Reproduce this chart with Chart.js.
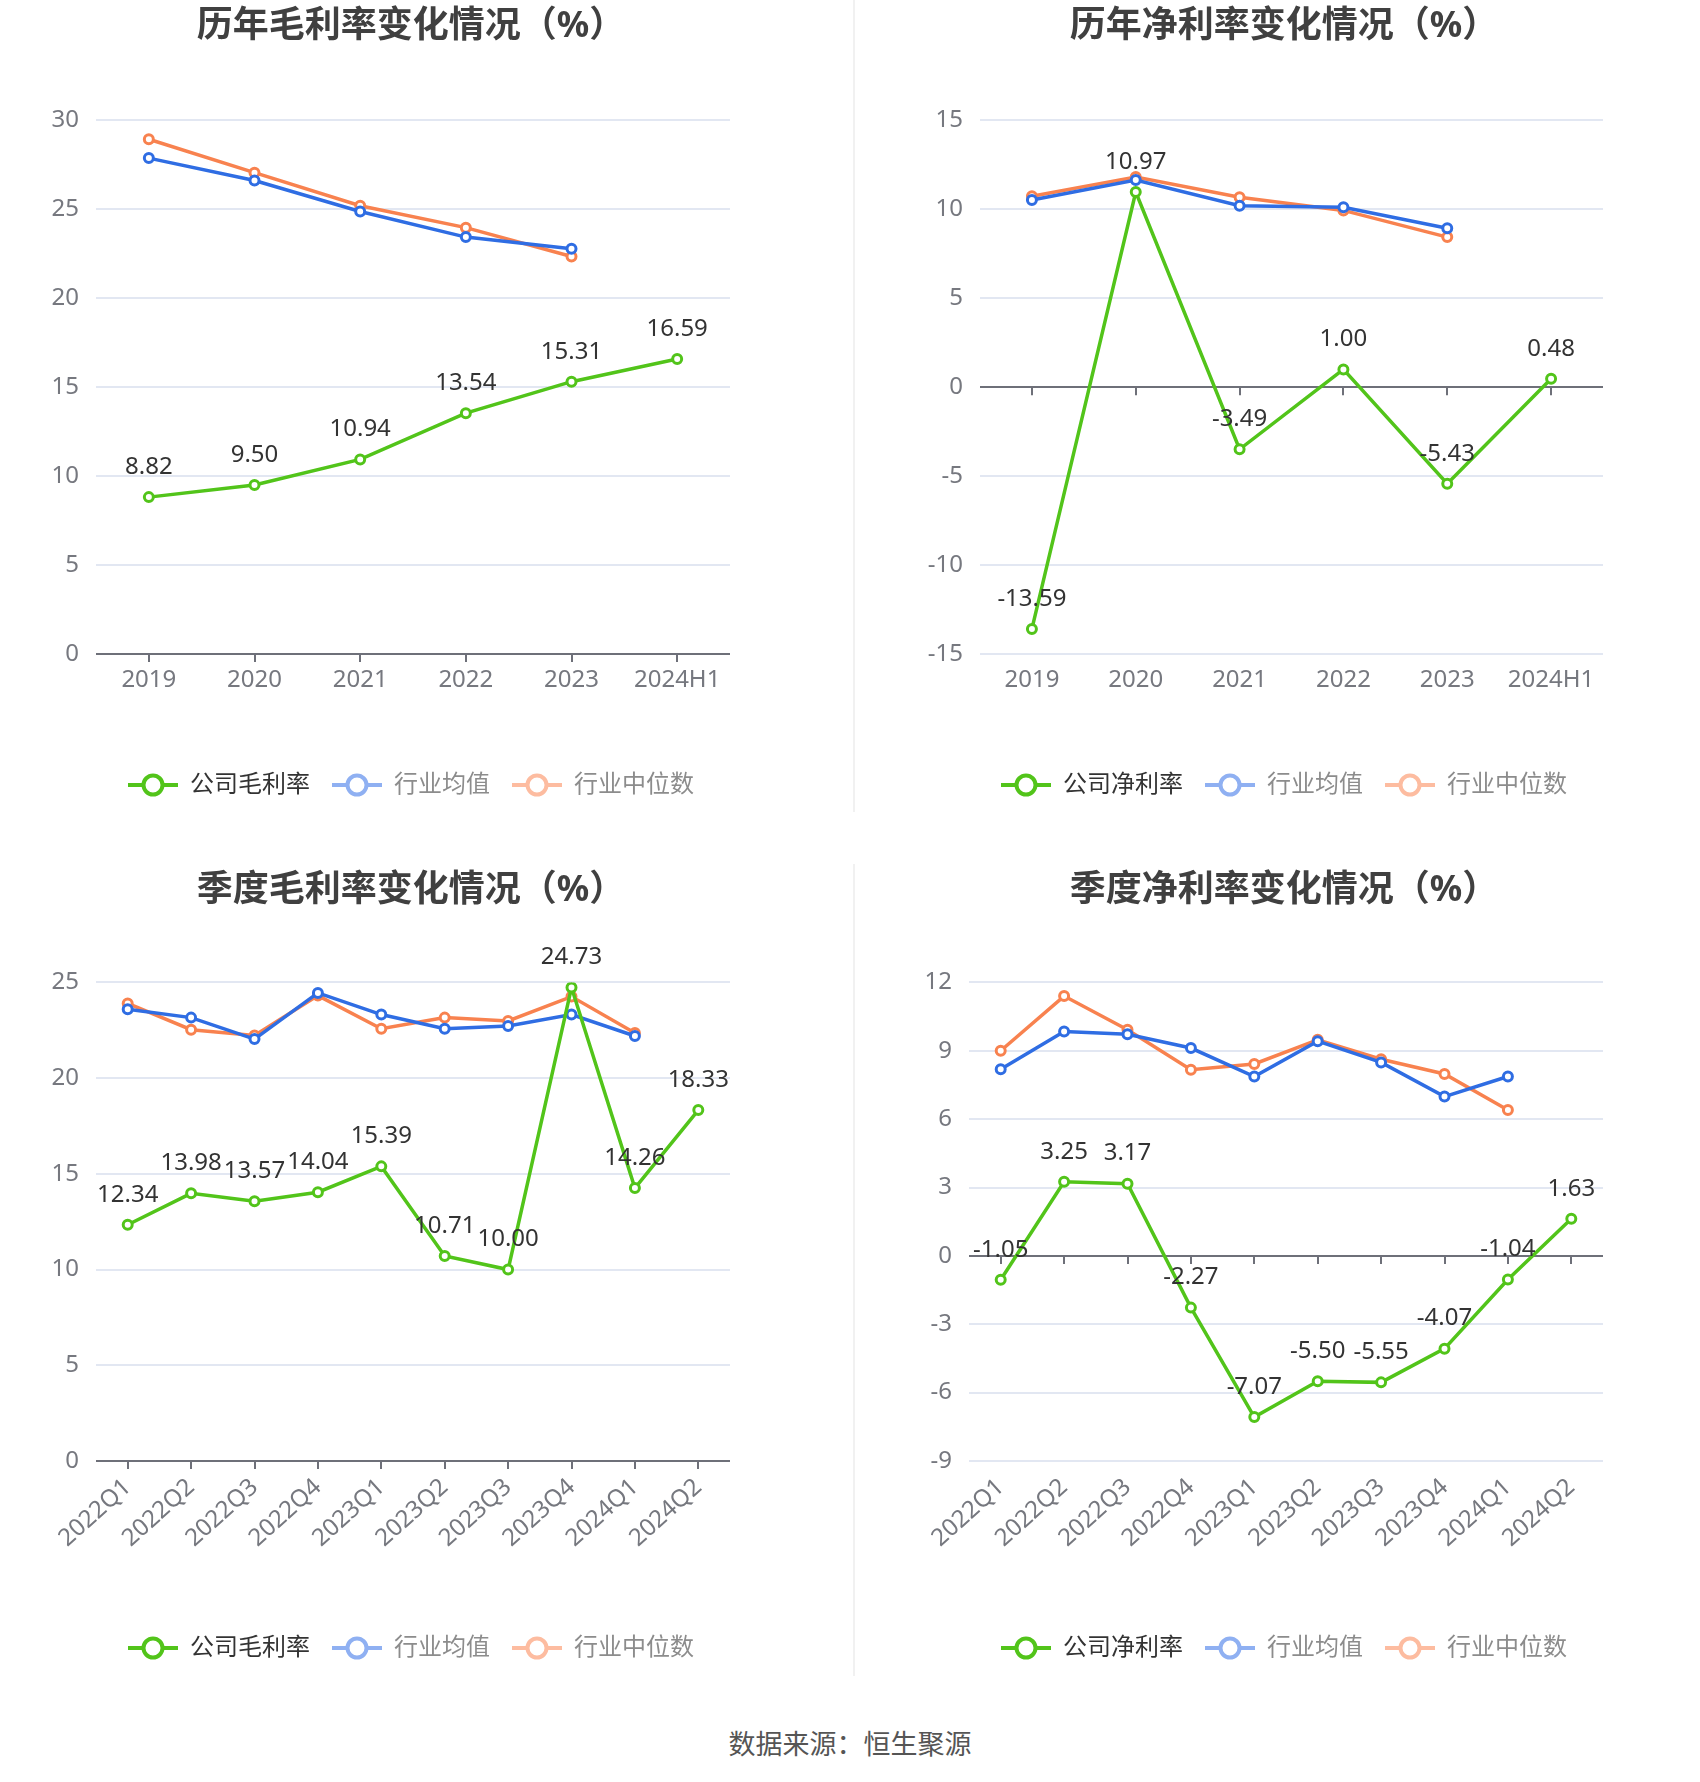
<!DOCTYPE html>
<html lang="zh-CN">
<head>
<meta charset="utf-8">
<title>毛利率、净利率变化情况</title>
<script src="https://cdn.jsdelivr.net/npm/chart.js@4.4.1/dist/chart.umd.min.js"></script>
<style>
    html, body { margin: 0; padding: 0; background: #fff; }
    #page { position: relative; width: 1700px; height: 1782px; overflow: hidden; }
    #page canvas { position: absolute; }
    .divider { position: absolute; left: 853px; width: 2px; background: #f1f1f1; }
    #source {
        position: absolute; left: 0; top: 1726px; width: 1700px; line-height: 34px;
        text-align: center; font-size: 27px; color: #555;
        font-family: 'Noto Sans CJK SC', sans-serif;
    }
</style>
</head>
<body>
<div id="page">
    <canvas id="chart1" width="822" height="830" style="left:0;top:0"></canvas>
    <canvas id="chart2" width="832" height="830" style="left:868px;top:0"></canvas>
    <canvas id="chart3" width="822" height="830" style="left:0;top:860px"></canvas>
    <canvas id="chart4" width="832" height="830" style="left:868px;top:860px"></canvas>
    <div class="divider" style="top:0;height:812px"></div>
    <div class="divider" style="top:864px;height:812px"></div>
    <div id="source">数据来源：恒生聚源</div>
</div>
<script>
/** 横坐标 */
var yearLabels = ['2019', '2020', '2021', '2022', '2023', '2024H1']
var quarterLabels = ['2022Q1', '2022Q2', '2022Q3', '2022Q4', '2023Q1', '2023Q2', '2023Q3', '2023Q4', '2024Q1', '2024Q2']

/** 历年毛利率 */
var yearGross = [8.82, 9.50, 10.94, 13.54, 15.31, 16.59]
var yearGrossAvg = [27.88, 26.62, 24.88, 23.44, 22.79]
var yearGrossMid = [28.94, 27.06, 25.20, 23.97, 22.35]

/** 历年净利率 */
var yearNet = [-13.59, 10.97, -3.49, 1.00, -5.43, 0.48]
var yearNetAvg = [10.53, 11.65, 10.20, 10.12, 8.94]
var yearNetMid = [10.74, 11.82, 10.68, 9.94, 8.44]

/** 季度毛利率 */
var quarterGross = [12.34, 13.98, 13.57, 14.04, 15.39, 10.71, 10.00, 24.73, 14.26, 18.33]
var quarterGrossAvg = [23.60, 23.16, 22.04, 24.45, 23.32, 22.58, 22.72, 23.32, 22.20]
var quarterGrossMid = [23.90, 22.53, 22.23, 24.31, 22.58, 23.16, 22.99, 24.26, 22.36]

/** 季度净利率 */
var quarterNet = [-1.05, 3.25, 3.17, -2.27, -7.07, -5.50, -5.55, -4.07, -1.04, 1.63]
var quarterNetAvg = [8.19, 9.85, 9.72, 9.12, 7.87, 9.42, 8.49, 6.99, 7.87]
var quarterNetMid = [9.00, 11.40, 9.92, 8.17, 8.42, 9.48, 8.63, 7.98, 6.40]

/** 纵坐标刻度 [min, max, step] */
var yearGrossTicks = [0, 30, 5]
var yearNetTicks = [-15, 15, 5]
var quarterGrossTicks = [0, 25, 5]
var quarterNetTicks = [-9, 12, 3]

var FONT = "'Noto Sans', 'Noto Sans CJK SC', sans-serif"
var GREEN = '#52c41a'
var BLUE = '#2f6de3'
var ORANGE = '#f8824f'

var page = {
    init: function () {
        Chart.defaults.font.family = FONT
        Chart.register(page.plugins.zeroTicks, page.plugins.valueLabels)

        page.funcs.createChart('chart1', {
            title: '历年毛利率变化情况（%）', name: '公司毛利率',
            labels: yearLabels, company: yearGross, avg: yearGrossAvg, mid: yearGrossMid,
            ticks: yearGrossTicks, leftW: 96, rightW: 92, year: true
        })
        page.funcs.createChart('chart2', {
            title: '历年净利率变化情况（%）', name: '公司净利率',
            labels: yearLabels, company: yearNet, avg: yearNetAvg, mid: yearNetMid,
            ticks: yearNetTicks, leftW: 112, rightW: 97, year: true
        })
        page.funcs.createChart('chart3', {
            title: '季度毛利率变化情况（%）', name: '公司毛利率',
            labels: quarterLabels, company: quarterGross, avg: quarterGrossAvg, mid: quarterGrossMid,
            ticks: quarterGrossTicks, leftW: 96, rightW: 92, year: false
        })
        page.funcs.createChart('chart4', {
            title: '季度净利率变化情况（%）', name: '公司净利率',
            labels: quarterLabels, company: quarterNet, avg: quarterNetAvg, mid: quarterNetMid,
            ticks: quarterNetTicks, leftW: 101, rightW: 97, year: false
        })
    },
    plugins: {
        // x轴刻度线画在0值那条线上
        zeroTicks: {
            id: 'zeroTicks',
            beforeDatasetsDraw: function (chart) {
                var xs = chart.scales.x, ys = chart.scales.y
                var y0 = ys.getPixelForValue(0)
                var ctx = chart.ctx
                ctx.save()
                ctx.strokeStyle = '#6e7079'
                ctx.lineWidth = 2
                xs.ticks.forEach(function (t, i) {
                    var px = Math.round(xs.getPixelForTick(i))
                    ctx.beginPath()
                    ctx.moveTo(px, y0)
                    ctx.lineTo(px, y0 + 8)
                    ctx.stroke()
                })
                ctx.restore()
            }
        },
        // 公司数据的数值标签
        valueLabels: {
            id: 'valueLabels',
            afterDatasetsDraw: function (chart) {
                var ctx = chart.ctx
                var values = chart.data.datasets[0].data
                ctx.save()
                ctx.font = '24px ' + FONT
                ctx.fillStyle = '#333'
                ctx.textAlign = 'center'
                ctx.textBaseline = 'middle'
                chart.getDatasetMeta(0).data.forEach(function (pt, i) {
                    ctx.fillText(values[i].toFixed(2), pt.x, pt.y - 30)
                })
                ctx.restore()
            }
        }
    },
    funcs: {
        legendIcon: function (color) {
            var c = document.createElement('canvas')
            c.width = 50
            c.height = 26
            var g = c.getContext('2d')
            g.strokeStyle = color
            g.lineWidth = 4
            g.beginPath()
            g.moveTo(0, 13)
            g.lineTo(50, 13)
            g.stroke()
            g.beginPath()
            g.arc(25, 13, 9.5, 0, Math.PI * 2)
            g.fillStyle = '#fff'
            g.fill()
            g.stroke()
            return c
        },
        series: function (label, data, color) {
            return {
                label: label,
                data: data,
                borderColor: color,
                backgroundColor: color,
                borderWidth: 3.5,
                pointRadius: 4.5,
                pointBorderWidth: 3,
                pointBackgroundColor: '#fff',
                pointBorderColor: color,
                tension: 0,
                fill: false
            }
        },
        createChart: function (id, cfg) {
            var icons = [
                page.funcs.legendIcon(GREEN),
                page.funcs.legendIcon('#8fb0f2'),
                page.funcs.legendIcon('#fdbca0')
            ]
            var titlePad = cfg.year ? { top: 6, bottom: 73 } : { top: 10, bottom: 71 }
            var xHeight = cfg.year ? 97 : 153
            var padBottom = cfg.year ? 23 : 20
            var ctx = document.getElementById(id).getContext('2d')
            return new Chart(ctx, {
                type: 'line',
                data: {
                    labels: cfg.labels,
                    datasets: [
                        page.funcs.series(cfg.name, cfg.company, GREEN),
                        page.funcs.series('行业均值', cfg.avg, BLUE),
                        page.funcs.series('行业中位数', cfg.mid, ORANGE)
                    ]
                },
                options: {
                    responsive: false,
                    animation: false,
                    events: [],
                    layout: { padding: { left: 0, right: 0, top: 0, bottom: padBottom } },
                    plugins: {
                        tooltip: { enabled: false },
                        title: {
                            display: true,
                            text: cfg.title,
                            color: '#404040',
                            font: { size: 36, weight: 'bold', family: FONT, lineHeight: 1.15 },
                            padding: titlePad
                        },
                        legend: {
                            display: true,
                            position: 'bottom',
                            labels: {
                                usePointStyle: true,
                                pointStyleWidth: 50,
                                padding: 22,
                                font: { size: 24, family: FONT },
                                generateLabels: function (chart) {
                                    return chart.data.datasets.map(function (ds, i) {
                                        return {
                                            text: ds.label,
                                            datasetIndex: i,
                                            hidden: false,
                                            pointStyle: icons[i],
                                            fontColor: i === 0 ? '#333' : '#8c8c8c',
                                            fillStyle: 'transparent',
                                            strokeStyle: 'transparent',
                                            lineWidth: 0
                                        }
                                    })
                                }
                            }
                        }
                    },
                    scales: {
                        x: {
                            type: 'category',
                            offset: true,
                            grid: { display: false, drawTicks: false },
                            border: { display: false },
                            ticks: {
                                color: '#76787f',
                                font: { size: 24 },
                                padding: 12,
                                autoSkip: false,
                                minRotation: cfg.year ? 0 : 42,
                                maxRotation: cfg.year ? 0 : 42
                            },
                            afterFit: function (axis) { axis.height = xHeight }
                        },
                        y: {
                            position: 'left',
                            min: cfg.ticks[0],
                            max: cfg.ticks[1],
                            border: { display: false },
                            grid: {
                                drawTicks: false,
                                lineWidth: 2,
                                color: function (c) {
                                    return c.tick && c.tick.value === 0 ? '#6e7079' : '#e2e7f2'
                                }
                            },
                            ticks: {
                                stepSize: cfg.ticks[2],
                                color: '#76787f',
                                font: { size: 24 },
                                padding: 17
                            },
                            afterFit: function (axis) { axis.width = cfg.leftW }
                        },
                        // 右侧留白，让标题和图例居中
                        yRight: {
                            position: 'right',
                            display: true,
                            border: { display: false },
                            grid: { display: false, drawTicks: false },
                            ticks: { display: false },
                            afterFit: function (axis) { axis.width = cfg.rightW }
                        }
                    }
                }
            })
        }
    }
}

page.init()
</script>
</body>
</html>
